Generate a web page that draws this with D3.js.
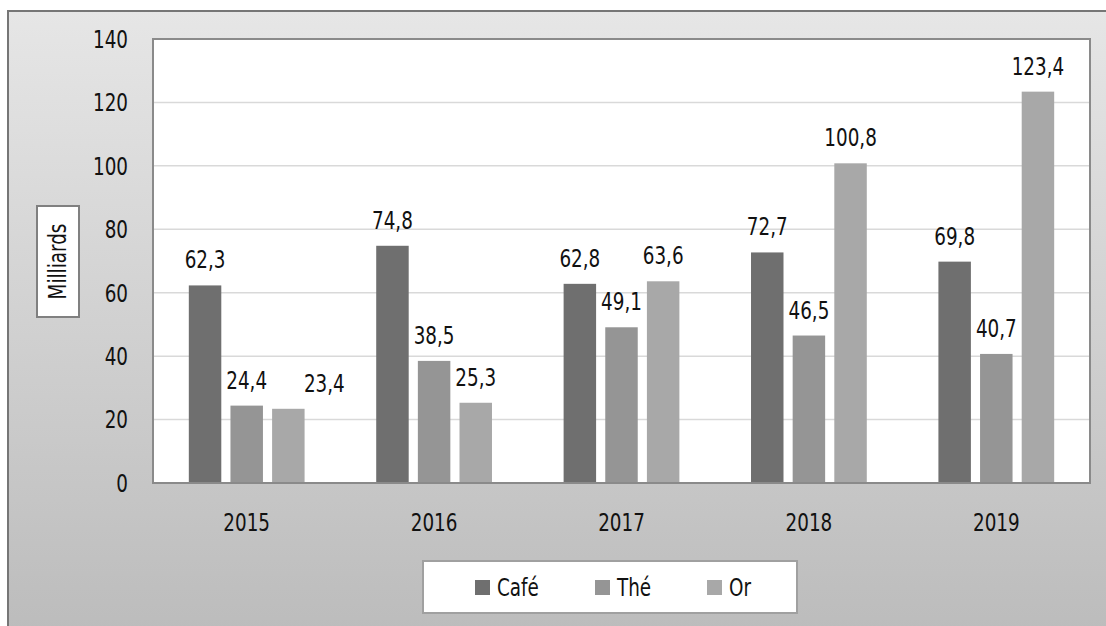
<!DOCTYPE html>
<html>
<head>
<meta charset="utf-8">
<script src="https://cdn.jsdelivr.net/npm/d3@7"></script>
<style>
  body { margin: 0; background: #ffffff; }
  svg text { font-family: "DejaVu Sans Condensed", "DejaVu Sans", sans-serif; font-size: 24px; fill: #111; }
</style>
</head>
<body>
<svg id="chart" width="1106" height="626"></svg>
<script>
// data
var years = ['2015', '2016', '2017', '2018', '2019'];
var seriesNames = ['Café', 'Thé', 'Or'];
var cafe = [62.3, 74.8, 62.8, 72.7, 69.8];
var the = [24.4, 38.5, 49.1, 46.5, 40.7];
var or = [23.4, 25.3, 63.6, 100.8, 123.4];
var yTicks = [0, 20, 40, 60, 80, 100, 120, 140];

var seriesValues = [cafe, the, or];
var colors = ['#6f6f6f', '#959595', '#a8a8a8'];

var svg = d3.select('#chart');
var W = 1106, H = 626;
var margin = { left: 153, top: 39, right: 1090, bottom: 483 };
var SX = 0.85; // text is narrower than the available font

// labels that were pushed aside to avoid overlapping a neighbour
var labelNudge = { '2015|Or': 36 };

// move x/y into a transform so glyphs can be squeezed horizontally
function squeeze(sel){
    sel.each(function(){
        var t = d3.select(this);
        var x = +t.attr('x') || 0, y = +t.attr('y') || 0;
        t.attr('x', 0).attr('y', 0)
         .attr('transform', 'translate(' + x + ',' + y + ') scale(' + SX + ',1)');
    });
}

// background gradient
var defs = svg.append('defs');
var grad = defs.append('linearGradient').attr('id', 'bg').attr('x1', 0).attr('y1', 0).attr('x2', 0).attr('y2', 1);
grad.append('stop').attr('offset', '0%').attr('stop-color', '#e6e6e6');
grad.append('stop').attr('offset', '100%').attr('stop-color', '#bbbbbb');

svg.append('rect')
    .attr('x', 8).attr('y', 11).attr('width', W + 10).attr('height', H + 10)
    .attr('fill', 'url(#bg)').attr('stroke', '#767676').attr('stroke-width', 2);

// scales
var x0 = d3.scaleBand().domain(years).range([margin.left, margin.right]).padding(0);
var x1 = d3.scaleBand().domain(seriesNames).range([0, x0.bandwidth()]).paddingInner(0.22).paddingOuter(0.86);
var y = d3.scaleLinear().domain([0, 140]).range([margin.bottom, margin.top]);

// plot area
svg.append('rect')
    .attr('x', margin.left).attr('y', margin.top)
    .attr('width', margin.right - margin.left).attr('height', margin.bottom - margin.top)
    .attr('fill', '#ffffff');

// gridlines
svg.append('g').selectAll('line')
    .data(yTicks.filter(d => d > 0 && d < 140)).enter().append('line')
    .attr('x1', margin.left).attr('x2', margin.right)
    .attr('y1', d => y(d)).attr('y2', d => y(d))
    .attr('stroke', '#d9d9d9').attr('stroke-width', 1.5);

// bars
var groups = svg.append('g').selectAll('g')
    .data(years).enter().append('g')
    .attr('transform', d => 'translate(' + x0(d) + ',0)');

groups.selectAll('rect')
    .data((d, i) => seriesNames.map((s, j) => ({ s: s, v: seriesValues[j][i], c: colors[j] })))
    .enter().append('rect')
    .attr('x', d => x1(d.s)).attr('width', x1.bandwidth())
    .attr('y', d => y(d.v)).attr('height', d => y(0) - y(d.v))
    .attr('fill', d => d.c);

groups.selectAll('text')
    .data((d, i) => seriesNames.map((s, j) => ({ s: s, v: seriesValues[j][i], yr: d })))
    .enter().append('text')
    .attr('x', d => x1(d.s) + x1.bandwidth() / 2 + (labelNudge[d.yr + '|' + d.s] || 0))
    .attr('y', d => y(d.v) - 17)
    .attr('text-anchor', 'middle')
    .text(d => d.v.toFixed(1).replace('.', ','))
    .call(squeeze);

// plot border
svg.append('rect')
    .attr('x', margin.left).attr('y', margin.top)
    .attr('width', margin.right - margin.left).attr('height', margin.bottom - margin.top)
    .attr('fill', 'none').attr('stroke', '#8a8a8a').attr('stroke-width', 2);

// y axis
var yAxis = svg.append('g')
    .attr('transform', 'translate(' + margin.left + ',0)')
    .call(d3.axisLeft(y).tickValues(yTicks).tickSize(0).tickPadding(25));
yAxis.select('.domain').remove();
yAxis.selectAll('text').attr('font-size', null).attr('font-family', null).attr('fill', '#111').attr('dy', '0.35em').call(squeeze);

// x axis
var xAxis = svg.append('g')
    .attr('transform', 'translate(0,' + margin.bottom + ')')
    .call(d3.axisBottom(x0).tickSize(0).tickPadding(31));
xAxis.select('.domain').remove();
xAxis.selectAll('text').attr('fill', '#111').call(squeeze);
svg.selectAll('.tick text').style('font-size', '24px');

// y title
svg.append('rect')
    .attr('x', 37).attr('y', 206).attr('width', 42).attr('height', 111)
    .attr('fill', '#ffffff').attr('stroke', '#808080').attr('stroke-width', 2);
svg.append('text')
    .attr('transform', 'translate(58,261.5) rotate(-90) scale(' + SX + ',1)')
    .attr('text-anchor', 'middle').attr('dy', '0.35em')
    .text('Milliards');

// legend
svg.append('rect')
    .attr('x', 423).attr('y', 561).attr('width', 374).attr('height', 52)
    .attr('fill', '#ffffff').attr('stroke', '#a0a0a0').attr('stroke-width', 2);
var legendX = [475, 595, 707];
var leg = svg.append('g').selectAll('g')
    .data(seriesNames).enter().append('g')
    .attr('transform', (d, i) => 'translate(' + legendX[i] + ',580)');
leg.append('rect').attr('width', 15).attr('height', 15).attr('fill', (d, i) => colors[i]);
leg.append('text').attr('x', 22).attr('y', 7.5).attr('dy', '0.35em')
    .text(d => d).call(squeeze);
</script>
</body>
</html>
